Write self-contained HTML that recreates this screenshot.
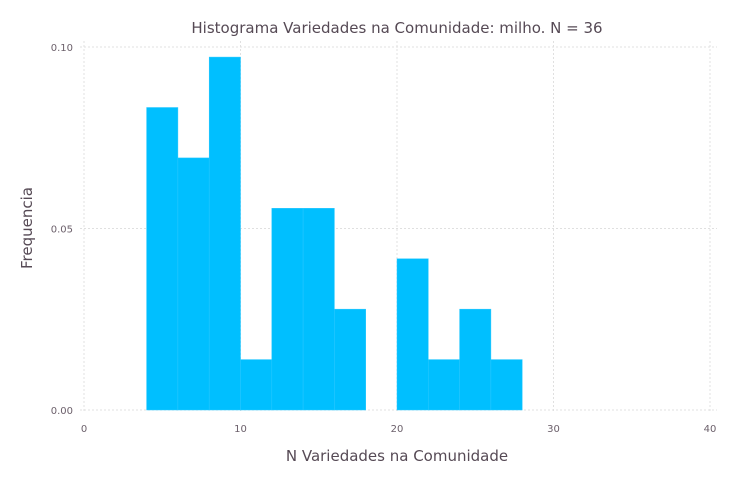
<!DOCTYPE html>
<html><head><meta charset="utf-8"><style>
body{margin:0;background:#fff;}
svg{display:block;font-family:"DejaVu Sans","Liberation Sans",sans-serif;}
</style></head><body>
<svg id="chart" width="737" height="491">
<text x="397" y="33" text-anchor="middle" font-size="15" fill="#564a55">Histograma Variedades na Comunidade: milho. N = 36</text>
<text x="397" y="461" text-anchor="middle" font-size="15" fill="#564a55">N Variedades na Comunidade</text>
<text transform="translate(32,228) rotate(-90)" text-anchor="middle" font-size="15" fill="#564a55">Frequencia</text>
<g id="grid"></g><g id="bars"></g><g id="ticks"></g>
</svg>
<script>
const binStarts=[4,6,8,10,12,14,16,18,20,22,24,26];
const binWidth=2;
const density=[6/72,5/72,7/72,1/72,4/72,4/72,2/72,0,3/72,1/72,2/72,1/72];
const xTicks=[0,10,20,30,40];
const yTicks=[0,0.05,0.10];
const yTickLabels=["0.00","0.05","0.10"];
const NS="http://www.w3.org/2000/svg";
const x=v=>84+v*(710-84)/40;
const y=v=>410-v*(410-47)/0.10;
function mk(t,a,p){const e=document.createElementNS(NS,t);for(const k in a)e.setAttribute(k,a[k]);p.appendChild(e);return e;}
const grid=document.getElementById('grid'),bars=document.getElementById('bars'),ticks=document.getElementById('ticks');
xTicks.forEach(v=>{
 const l=mk('line',{x1:x(v),x2:x(v),y1:41,y2:412,stroke:'#e0e0e0','stroke-dasharray':'2,2'},grid);
 
 
 const t=mk('text',{x:x(v),y:432,'text-anchor':'middle','font-size':10,fill:'#6c606b'},ticks);
 t.textContent=v;
 
 
});
yTicks.forEach((v,i)=>{
 const l=mk('line',{x1:80,x2:717,y1:y(v),y2:y(v),stroke:'#e0e0e0','stroke-dasharray':'2,2'},grid);
 
 
 const t=mk('text',{x:73,y:y(v)+4,'text-anchor':'end','font-size':10,fill:'#6c606b'},ticks);
 t.textContent=yTickLabels[i];
 
 
});
binStarts.forEach((s,i)=>{
 if(density[i]<=0)return;
 const r=mk('rect',{x:x(s),y:y(density[i]),width:x(s+binWidth)-x(s),height:y(0)-y(density[i]),fill:'#00bfff',stroke:'#2ac8ff','stroke-width':0.5},bars);
 
 
});
</script>
</body></html>
